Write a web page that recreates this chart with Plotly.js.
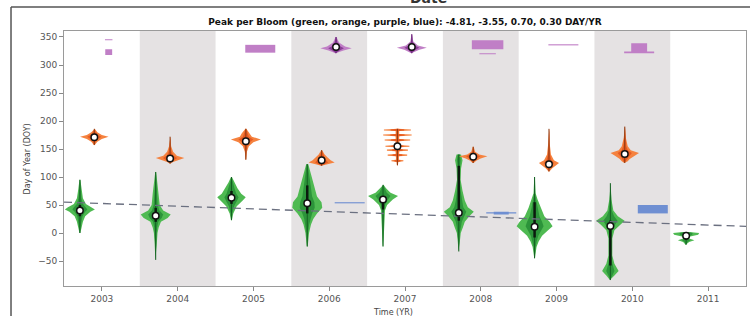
<!DOCTYPE html>
<html><head><meta charset="utf-8">
<script src="https://cdn.plot.ly/plotly-3.0.1.min.js"></script>
<style>html,body{margin:0;padding:0;background:#fff}#chart{width:750px;height:316px}</style>
</head><body><div id="chart"></div>
<script>
// ---------------- data ----------------
var years = [2003, 2004, 2005, 2006, 2007, 2008, 2009, 2010, 2011];
var shadedYears = [2004, 2006, 2008, 2010];
var slopes = [-4.81, -3.55, 0.70, 0.30];
var yTicks = [-50, 0, 50, 100, 150, 200, 250, 300, 350];

// green bloom: [value (DOY), relative density]
var greenMedian = [40, 31, 63, 53, 60, 36, 11, 12.5, -5];
var greenQ1 = [30, 20, 52, 35, 42, 22, -8, -58, -12];
var greenQ3 = [50, 45, 75, 85, 66, 120, 55, 22, 0];
var greenProfiles = [
  [[95,0.03],[80,0.1],[62,0.2],[52,0.4],[46,0.8],[42,1.0],[38,0.7],[30,0.35],[20,0.2],[10,0.12],[0,0.03]],
  [[109,0.03],[90,0.12],[70,0.2],[50,0.27],[40,0.5],[33,1.0],[27,0.8],[20,0.35],[10,0.2],[0,0.12],[-20,0.07],[-48,0.02]],
  [[100,0.03],[90,0.2],[80,0.4],[70,0.65],[64,0.95],[58,0.75],[48,0.35],[35,0.12],[23,0.03]],
  [[123,0.07],[110,0.2],[95,0.33],[80,0.5],[65,0.65],[55,0.95],[45,1.0],[35,0.65],[25,0.4],[15,0.25],[0,0.12],[-24,0.03]],
  [[86,0.03],[80,0.2],[72,0.5],[66,1.0],[60,0.65],[50,0.27],[40,0.13],[20,0.1],[0,0.07],[-24,0.02]],
  [[140,0.15],[130,0.25],[115,0.15],[95,0.12],[75,0.25],[58,0.4],[46,0.6],[38,1.0],[30,0.7],[20,0.4],[10,0.27],[0,0.13],[-15,0.07],[-33,0.02]],
  [[100,0.02],[71,0.07],[60,0.2],[45,0.4],[30,0.65],[20,1.0],[12,1.2],[5,0.9],[-5,0.5],[-15,0.27],[-25,0.13],[-45,0.02]],
  [[89,0.02],[60,0.07],[40,0.2],[30,0.5],[22,0.95],[15,0.65],[5,0.27],[-10,0.13],[-40,0.13],[-55,0.27],[-68,0.55],[-76,0.27],[-84,0.03]],
  [[2,0.2],[0,0.87],[-3,0.8],[-6,0.27],[-10,0.2],[-13,0.55],[-16,0.2],[-21,0.03]]
];

// orange bloom
var orangeMedian = [171, 133, 164, 130, 155, 136, 123, 141, null];
var orangeProfiles = [
  [[186,0.03],[180,0.2],[175,0.5],[172,0.95],[168,0.5],[163,0.2],[157,0.03]],
  [[172,0.02],[155,0.07],[145,0.2],[138,0.45],[134,0.95],[130,0.5],[127,0.2],[124,0.03]],
  [[186,0.03],[178,0.27],[172,0.4],[167,1.0],[162,0.5],[155,0.2],[145,0.07],[131,0.02]],
  [[148,0.03],[140,0.2],[135,0.4],[130,0.6],[126,0.87],[123,0.4],[120,0.03]],
  [[186,0.03],[185,0.9],[183,0.9],[182,0.12],[177,0.12],[176,0.95],[174,0.95],[173,0.12],[168,0.12],[167,0.85],[165,0.85],[164,0.12],[157,0.12],[156,0.8],[154,0.8],[153,0.12],[150,0.12],[149,0.7],[147,0.7],[146,0.12],[141,0.12],[140,0.65],[138,0.65],[137,0.1],[131,0.1],[130,0.4],[128,0.4],[127,0.06],[121,0.03]],
  [[154,0.03],[145,0.13],[140,0.4],[137,0.95],[133,0.5],[129,0.2],[125,0.03]],
  [[186,0.02],[160,0.05],[140,0.13],[130,0.33],[125,0.67],[120,0.4],[115,0.2],[110,0.03]],
  [[190,0.02],[170,0.07],[155,0.2],[148,0.4],[143,0.95],[138,0.65],[132,0.33],[128,0.2],[125,0.03]],
  null
];

// purple bloom
var purpleMedian = [null, null, null, 332, 332, null, null, null, null];
var purpleProfiles = [
  [[346,0.25],[344,0.25],[344,0],[328,0],[328,0.23],[318,0.23]],
  null,
  [[336,1.0],[322,1.0]],
  [[350,0.03],[340,0.2],[333,0.6],[330,1.05],[326,0.5],[321,0.03]],
  [[355,0.02],[342,0.1],[335,0.4],[331,1.0],[327,0.5],[321,0.03]],
  [[344,1.05],[328,1.05],[328,0],[321,0],[321,0.55],[319,0.55]],
  [[337,1.0],[335,1.0]],
  [[339,0.53],[324,0.53],[324,1.0],[321,1.0]],
  null
];

// blue bloom
var blueProfiles = [
  null, null, null,
  [[55,1.0],[53,1.0]],
  null,
  [[38,0.5],[37,0.5],[37,1.0],[35,1.0],[35,0.5],[33,0.5]],
  null,
  [[50,1.0],[35,1.0]],
  null
];

// green trend line: passes through the mean of the green medians with the stated slope
var trendSlope = slopes[0];

// ---------------- drawing ----------------
var W = 0.198; // year units per unit density
var series = [
  {prof: greenProfiles,  med: greenMedian,  off: -0.29, outer: '#4fba52', inner: '#2c943a', whisk: '#145f22'},
  {prof: orangeProfiles, med: orangeMedian, off: -0.10, outer: '#f5823f', inner: '#e65a22', whisk: '#8a3a12'},
  {prof: purpleProfiles, med: purpleMedian, off: 0.09,  outer: '#c07fc6', inner: '#8a3d96', whisk: '#6a2a78'},
  {prof: blueProfiles,   med: null,         off: 0.27,  outer: '#6f8fd2', inner: '#4a6cbc', whisk: '#3a5aa8'}
];

function poly(c, prof, scale) {
  var xs = [], ys = [];
  prof.forEach(function (p) { xs.push(c + p[1] * W * scale); ys.push(p[0]); });
  for (var i = prof.length - 1; i >= 0; i--) { xs.push(c - prof[i][1] * W * scale); ys.push(prof[i][0]); }
  xs.push(xs[0]); ys.push(ys[0]);
  return {x: xs, y: ys};
}

var traces = [];
var medX = [], medY = [];
series.forEach(function (s) {
  s.prof.forEach(function (prof, i) {
    if (!prof) return;
    var c = years[i] + s.off;
    var o = poly(c, prof, 1);
    traces.push({type: 'scatter', mode: 'lines', x: o.x, y: o.y, fill: 'toself',
      fillcolor: s.outer, line: {width: 0, color: s.outer}, hoverinfo: 'skip', showlegend: false});
    var hasMed = s.med && s.med[i] !== null && s.med[i] !== undefined;
    if (hasMed) {
      var inn = poly(c, prof, 0.5);
      traces.push({type: 'scatter', mode: 'lines', x: inn.x, y: inn.y, fill: 'toself',
        fillcolor: s.inner, line: {width: 0, color: s.inner}, hoverinfo: 'skip', showlegend: false});
      var top = prof[0][0], bot = prof[prof.length - 1][0];
      traces.push({type: 'scatter', mode: 'lines', x: [c, c], y: [bot, top],
        line: {width: 1, color: s.whisk}, hoverinfo: 'skip', showlegend: false});
      medX.push(c); medY.push(s.med[i]);
    }
  });
});

// green interquartile bars
greenQ1.forEach(function (q, i) {
  var c = years[i] + series[0].off;
  traces.push({type: 'scatter', mode: 'lines', x: [c, c], y: [q, greenQ3[i]],
    line: {width: 2.5, color: '#0b1a0e'}, hoverinfo: 'skip', showlegend: false});
});

// trend line
var meanYear = years.reduce(function (a, b) { return a + b; }, 0) / years.length;
var meanMed = greenMedian.reduce(function (a, b) { return a + b; }, 0) / greenMedian.length;
var tx = [2002.5, 2011.5];
traces.push({type: 'scatter', mode: 'lines', x: tx,
  y: tx.map(function (x) { return meanMed + trendSlope * (x - meanYear); }),
  line: {width: 1.3, color: '#6b7080', dash: '8px,5px'}, hoverinfo: 'skip', showlegend: false});

// medians
traces.push({type: 'scatter', mode: 'markers', x: medX, y: medY,
  marker: {size: 6.5, color: '#ffffff', line: {width: 1.5, color: '#111111'}},
  hoverinfo: 'skip', showlegend: false});

var shapes = shadedYears.map(function (y) {
  return {type: 'rect', xref: 'x', yref: 'paper', x0: y - 0.5, x1: y + 0.5, y0: 0, y1: 1,
    fillcolor: '#e5e2e3', line: {width: 0}, layer: 'below'};
});
// outer figure frame
shapes.push({type: 'line', xref: 'paper', yref: 'paper', x0: -0.0777, x1: 1.01, y0: 1.094, y1: 1.094,
  line: {color: '#555555', width: 1.5}});
shapes.push({type: 'line', xref: 'paper', yref: 'paper', x0: -0.0777, x1: -0.0777, y0: 1.094, y1: -0.13,
  line: {color: '#555555', width: 1.5}});

var titleText = 'Peak per Bloom (green, orange, purple, blue): ' +
  slopes.map(function (v) { return v.toFixed(2); }).join(', ') + ' DAY/YR';

var layout = {
  width: 750, height: 316,
  margin: {l: 64, r: 4, t: 31, b: 30},
  paper_bgcolor: '#ffffff', plot_bgcolor: '#ffffff',
  font: {family: 'DejaVu Sans', size: 9, color: '#555555'},
  title: {text: '<b>' + titleText + '</b>', x: 0.5, xref: 'paper', xanchor: 'center',
    y: 0.930, yref: 'container', yanchor: 'middle', font: {family: 'DejaVu Sans', size: 9, color: '#111111'}},
  xaxis: {range: [2002.5, 2011.5], tickvals: years, ticktext: years.map(String), ticks: 'outside',
    ticklen: 4, tickcolor: '#888888', showgrid: false, zeroline: false, showline: true, mirror: true,
    linecolor: '#9a9a9a', linewidth: 1, tickfont: {size: 9, color: '#555555'}},
  yaxis: {range: [-94.6, 360.7], tickvals: yTicks, ticks: 'outside', ticklen: 4, tickcolor: '#888888',
    showgrid: false, zeroline: false, showline: true, mirror: true, linecolor: '#9a9a9a', linewidth: 1,
    tickfont: {size: 9, color: '#555555'}},
  shapes: shapes,
  annotations: [
    {text: 'Day of Year (DOY)', xref: 'paper', yref: 'paper', x: -0.0528, y: 0.5, textangle: -90,
      showarrow: false, xanchor: 'center', yanchor: 'middle', font: {size: 8, color: '#444444'}},
    {text: 'Time (YR)', xref: 'paper', yref: 'paper', x: 0.482, y: -0.102, showarrow: false,
      xanchor: 'center', yanchor: 'middle', font: {size: 8, color: '#444444'}},
    {text: '<b>Date</b>', xref: 'paper', yref: 'paper', x: 0.534, y: 1.09, showarrow: false,
      xanchor: 'center', yanchor: 'bottom', font: {size: 14, color: '#333333'}}
  ]
};

Plotly.newPlot('chart', traces, layout, {staticPlot: true, displayModeBar: false});
</script>
</body></html>
